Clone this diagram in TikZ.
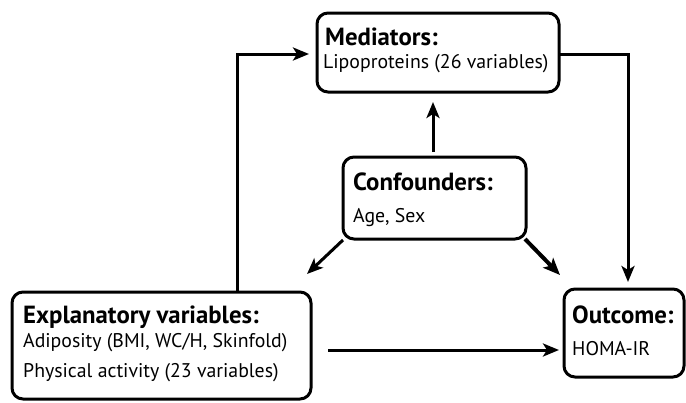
\documentclass[tikz,border=0pt]{standalone}
\usepackage{fontspec}
\setmainfont{PT Sans}
\usetikzlibrary{arrows.meta,calc}
\begin{document}
\begin{tikzpicture}[x=1pt,y=-1pt,
  box/.style={draw, line width=3pt, rounded corners=11pt, outer sep=0pt, inner sep=0pt},
  ttl/.style={anchor=base west, inner sep=0pt, font=\fontsize{24.8}{28}\selectfont\bfseries},
  txt/.style={anchor=base west, inner sep=0pt, font=\fontsize{19.8}{22}\selectfont},
  arr/.style={line width=3pt, -{Stealth[length=16pt,width=13pt,inset=4pt]}},
  arrb/.style={line width=4pt, -{Stealth[length=17pt,width=14pt,inset=4pt]}}]
\useasboundingbox[fill=white] (0,0) rectangle (686,402);
% boxes
\node[box, minimum width=242pt, minimum height=79pt] (med) at (438,52.5) {};
\node[box, minimum width=183pt, minimum height=82pt] (conf) at (434.5,198) {};
\node[box, minimum width=299pt, minimum height=107pt] (expl) at (161.5,345.5) {};
\node[box, minimum width=120pt, minimum height=88pt] (out) at (624,333) {};
% texts
\node[ttl] (medt) at (325,45) {Mediators:};
\node[txt] (medb) at (323,68) {Lipoproteins (26 variables)};
\node[ttl] (conft) at (353,190) {Confounders:};
\node[txt] (confb) at (353,222) {Age, Sex};
\node[ttl] (explt) at (23,323) {Explanatory variables:};
\node[txt] (explb1) at (23,347) {Adiposity (BMI, WC/H, Skinfold)};
\node[txt] (explb2) at (23,377) {Physical activity (23 variables)};
\node[ttl] (outt) at (572,323) {Outcome:};
\node[txt] (outb) at (572,355) {HOMA-IR};
% free ends
\coordinate (ce) at ([xshift=-4pt,yshift=18pt]expl.north east);
\coordinate (co) at ([xshift=-4pt,yshift=14pt]out.north west);
% connectors
\draw[arr, shorten >=8pt] ([xshift=225pt]expl.north west) |- ([yshift=-1.5pt]med.west);
\draw[arr, shorten >=7pt] ([yshift=-1.5pt]med.east) -| ([xshift=4pt]out.north);
\draw[arr, shorten <=5pt, shorten >=10pt] ([xshift=-1.5pt]conf.north) -- ([xshift=-1.5pt]conf.north |- med.south);
\draw[arr] ([yshift=-1pt]conf.south west) -- (ce);
\draw[arrb] ([xshift=-1pt]conf.south east) -- (co);
\draw[arr, shorten <=17pt, shorten >=5pt] ([yshift=-4.5pt]expl.east) -- ([yshift=-4.5pt]expl.east -| out.west);
\end{tikzpicture}
\end{document}
